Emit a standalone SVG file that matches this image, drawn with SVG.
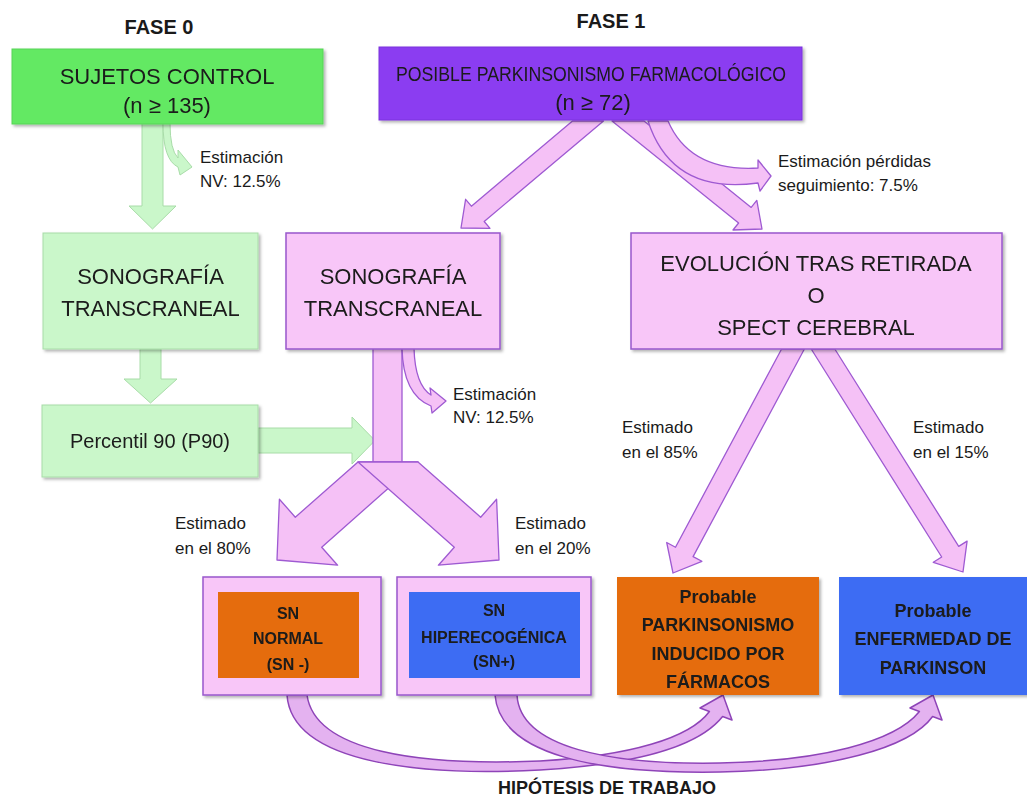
<svg xmlns="http://www.w3.org/2000/svg" width="1027" height="798" viewBox="0 0 1027 798">
<defs>
<filter id="sh" x="-5%" y="-5%" width="115%" height="120%">
<feDropShadow dx="2" dy="2" stdDeviation="1.5" flood-color="#000" flood-opacity="0.3"/>
</filter>
</defs>
<style>
text{font-family:"Liberation Sans",Arial,sans-serif;fill:#1a1a1a}
.t{font-size:22px;text-anchor:middle}
.h{font-size:20px;font-weight:bold;text-anchor:middle}
.s{font-size:17px}
.b{font-size:16px;font-weight:bold;text-anchor:middle}
.bb{font-size:18px;font-weight:bold;text-anchor:middle}
.g1{fill:#64e964;stroke:#56d356;stroke-width:1}
.g2{fill:#caf7ca;stroke:#a8dca8;stroke-width:1}
.pu{fill:#8b3ef1;stroke:#7a30dc;stroke-width:1}
.pk{fill:#f8c6f8;stroke:#9857cc;stroke-width:1.5}
.or{fill:#e56c0c}
.bl{fill:#3d6cf3}
.ag{fill:#caf7ca;stroke:#a8dca8;stroke-width:1}
.ap{fill:#f5c1f6;stroke:#9e5ad2;stroke-width:1.3;stroke-linejoin:round}
.cv{fill:#e4b2f0;stroke:#8e44b8;stroke-width:1.5;stroke-linejoin:round}
</style>
<rect width="1027" height="798" fill="#fff"/>

<g id="titles">
<text class="h" x="159" y="34">FASE 0</text>
<text class="h" x="611" y="28">FASE 1</text>
<text class="bb" x="607" y="794">HIPÓTESIS DE TRABAJO</text>
</g>

<g id="connectors">
<polygon class="ag" points="142,123 163,123 163,206 176,206 152.5,229 129,206 142,206"/>
<path class="ag" d="M163,123 Q163,160 178,167 L180,175 L192,167 L178,150 L178,158 Q170,150 170,123 Z"/>
<polygon class="ag" points="140,349 161,349 161,379 177,379 150.5,403 124,379 140,379"/>
<polygon class="ag" points="258,428 352,428 352,417 375,440.5 352,464 352,453 258,453"/>
<polygon class="ap" points="572.5,121 471.4,206.2 465.6,199.3 461,228 490,228.3 484.2,221.5 603.5,121"/>
<polygon class="ap" points="612,121 738.6,223 733,230 762,229 756.8,200.4 751.2,207.4 644,121"/>
<path class="ap" d="M648,121 Q672,195 758,183 L760,191 L771,176 L758,160 L758,168 Q690,172 668,121 Z"/>
<path class="ap" d="M373,348 L373,463 L402,463 L402,348"/>
<path class="ap" d="M402,348 Q403,395 431,406 L432,413 L446,401 L430,388 L431,395 Q415,385 414,348 Z"/>
<polygon class="ap" points="418,462 321.7,547.2 337.6,565.2 277,560 279.4,499.2 295.3,517.2 358,462"/>
<polygon class="ap" points="358,462 454.3,547.2 438.4,565.2 499,560 496.6,499.2 480.7,517.2 418,462"/>
<polygon class="ap" points="781.6,349 675.5,547.2 666.7,542.5 673,573 701.9,561.3 693.1,556.6 804.4,349"/>
<polygon class="ap" points="811.2,349 941.7,557 933.3,562.3 963,572 967.1,541.1 958.7,546.4 834.8,349"/>
<path class="cv" d="M287,695 C292,766 430,776 540,770 C640,764 700,745 722.6,716.5 L732,720 L723,695 L700,708 L709.4,711.5 C690,738 630,756 540,761 C420,766 315,752 307,695 Z"/>
<path class="cv" d="M495,695 C500,756 600,774 720,772 C830,770 910,748 932.6,716.5 L942,720 L933,695 L910,708 L919.4,711.5 C895,742 820,761 720,763 C610,765 520,748 517,695 Z"/>
</g>

<g id="labels">
<text class="s" x="200" y="163">Estimación</text>
<text class="s" x="200" y="187">NV: 12.5%</text>
<text class="s" x="778" y="167">Estimación pérdidas</text>
<text class="s" x="778" y="191">seguimiento: 7.5%</text>
<text class="s" x="453" y="400">Estimación</text>
<text class="s" x="453" y="423">NV: 12.5%</text>
<text class="s" x="175" y="529">Estimado</text>
<text class="s" x="175" y="554">en el 80%</text>
<text class="s" x="515" y="529">Estimado</text>
<text class="s" x="515" y="554">en el 20%</text>
<text class="s" x="622" y="433">Estimado</text>
<text class="s" x="622" y="458">en el 85%</text>
<text class="s" x="913" y="433">Estimado</text>
<text class="s" x="913" y="458">en el 15%</text>
</g>

<g id="n-control" filter="url(#sh)">
<rect class="g1" x="12" y="49" width="311" height="75"/>
<text class="t" x="167" y="84">SUJETOS CONTROL</text>
<text class="t" x="167" y="113">(n ≥ 135)</text>
</g>

<g id="n-posible" filter="url(#sh)">
<rect class="pu" x="379" y="47" width="423" height="73"/>
<text x="591" y="81" style="font-size:21px;text-anchor:middle" textLength="390" lengthAdjust="spacingAndGlyphs">POSIBLE PARKINSONISMO FARMACOLÓGICO</text>
<text class="t" x="593" y="110">(n ≥ 72)</text>
</g>

<g id="n-sono0" filter="url(#sh)">
<rect class="g2" x="43" y="233" width="215" height="116"/>
<text class="t" x="150.5" y="284">SONOGRAFÍA</text>
<text class="t" x="150.5" y="316">TRANSCRANEAL</text>
</g>

<g id="n-p90" filter="url(#sh)">
<rect class="g2" x="42" y="405" width="216" height="72"/>
<text class="t" x="150" y="448" style="font-size:20px">Percentil 90 (P90)</text>
</g>

<g id="n-sono1" filter="url(#sh)">
<rect class="pk" x="286" y="233" width="214" height="116"/>
<text class="t" x="393" y="284">SONOGRAFÍA</text>
<text class="t" x="393" y="316">TRANSCRANEAL</text>
</g>

<g id="n-evol" filter="url(#sh)">
<rect class="pk" x="631" y="233" width="371" height="116"/>
<text class="t" x="816" y="271">EVOLUCIÓN TRAS RETIRADA</text>
<text class="t" x="816" y="303">O</text>
<text class="t" x="816" y="335">SPECT CEREBRAL</text>
</g>

<g id="n-snneg" filter="url(#sh)">
<rect class="pk" x="203" y="577" width="178" height="118"/>
<rect class="or" x="218" y="592" width="141" height="86"/>
<text class="b" x="288" y="619">SN</text>
<text class="b" x="288" y="644">NORMAL</text>
<text class="b" x="288" y="670">(SN -)</text>
</g>

<g id="n-snpos" filter="url(#sh)">
<rect class="pk" x="397" y="577" width="194" height="118"/>
<rect class="bl" x="409" y="592" width="171" height="86"/>
<text class="b" x="494" y="616">SN</text>
<text class="b" x="494" y="643">HIPERECOGÉNICA</text>
<text class="b" x="494" y="667">(SN+)</text>
</g>

<g id="n-pif" filter="url(#sh)">
<rect class="or" x="617" y="577" width="202" height="118"/>
<text class="bb" x="718" y="603">Probable</text>
<text class="bb" x="718" y="631">PARKINSONISMO</text>
<text class="bb" x="718" y="660">INDUCIDO POR</text>
<text class="bb" x="718" y="688">FÁRMACOS</text>
</g>

<g id="n-ep" filter="url(#sh)">
<rect class="bl" x="839" y="577" width="200" height="118"/>
<text class="bb" x="933" y="617">Probable</text>
<text class="bb" x="933" y="645">ENFERMEDAD DE</text>
<text class="bb" x="933" y="674">PARKINSON</text>
</g>
</svg>
